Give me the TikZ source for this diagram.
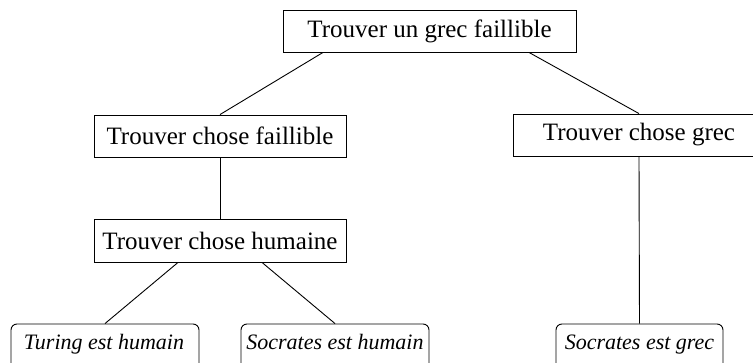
\documentclass[tikz,border=0pt]{standalone}
\usepackage{fontspec}
\setmainfont{Liberation Serif}
\begin{document}
\begin{tikzpicture}[x=1pt,y=-1pt,
  goalbox/.style={draw, line width=0.9pt, inner sep=0pt, font=\fontsize{25}{30}\selectfont},
  leafbox/.style={draw, line width=0.9pt, rounded corners=6pt, inner sep=0pt, font=\fontsize{22}{26}\selectfont\itshape},
  edge/.style={line width=0.9pt}]
\useasboundingbox (0,0) rectangle (753,363);
\node[goalbox, minimum width=293pt, minimum height=42pt] (top) at (429.5,31) {Trouver un grec faillible};
\node[goalbox, minimum width=252pt, minimum height=42pt] (fail) at (220,136) {Trouver chose faillible};
\node[goalbox, minimum width=252pt, minimum height=42pt] (grec) at (639,135) {Trouver chose grec};
\node[goalbox, minimum width=252pt, minimum height=43pt] (hum) at (220,240.5) {Trouver chose humaine};
\node[leafbox, minimum width=188pt, minimum height=52pt] (turing) at (105,350) {};
\node[leafbox, minimum width=188pt, minimum height=52pt] (soch) at (335,350) {};
\node[leafbox, minimum width=167pt, minimum height=52pt] (socg) at (639.5,350) {};
\node[font=\fontsize{22}{26}\selectfont\itshape, inner sep=0pt, anchor=base] (tt) at (104,350) {Turing est humain};
\node[font=\fontsize{22}{26}\selectfont\itshape, inner sep=0pt, anchor=base] (th) at (335,350) {Socrates est humain};
\node[font=\fontsize{22}{26}\selectfont\itshape, inner sep=0pt, anchor=base] (tg) at (639.5,350) {Socrates est grec};
\coordinate (topL) at ([xshift=-106.5pt]top.south);
\coordinate (topR) at ([xshift=99.5pt]top.south);
\coordinate (humL) at ([xshift=-42pt]hum.south);
\coordinate (humR) at ([xshift=42pt]hum.south);
\draw[edge] (topL) -- (fail.north);
\draw[edge] (topR) -- (grec.north);
\draw[edge] (fail.south) -- (hum.north);
\draw[edge] (humL) -- (turing.north);
\draw[edge] (humR) -- (soch.north);
\draw[edge] (grec.south) -- (socg.north);
\end{tikzpicture}
\end{document}
